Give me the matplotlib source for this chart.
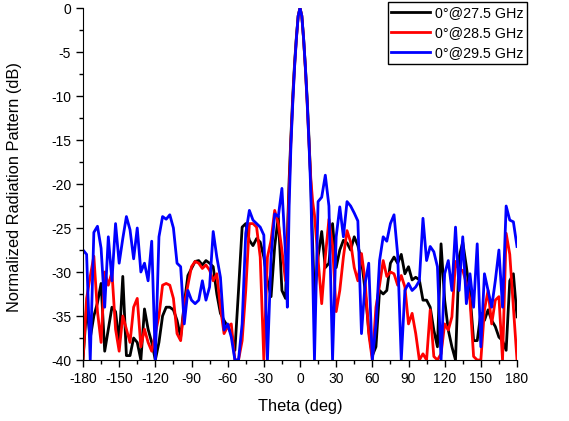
import numpy as np
import matplotlib
matplotlib.use("Agg")
import matplotlib.pyplot as plt
from matplotlib.ticker import MultipleLocator

plt.rcParams['font.family'] = ['Liberation Sans', 'DejaVu Sans']
plt.rcParams['axes.unicode_minus'] = False

# Theta grid: 3 deg outside the main beam, 1.5 deg across it
theta = np.concatenate([np.arange(-180, -12, 3),
                        np.arange(-12, 12.1, 1.5),
                        np.arange(15, 181, 3)])

# 0deg @ 27.5 GHz (black)
black_left = [-40, -34, -37.5, -35, -33.5, -31.3, -39, -36.5, -34, -34.5,
              -38, -30.5, -39.5, -39.5, -37.5, -38, -40, -34.2, -36.5, -38,
              -40, -38, -35, -34, -34, -34.3, -35.5, -37.4, -33.6, -30.4,
              -29.6, -28.8, -28.7, -29.2, -28.7, -29, -29.4, -32.5, -34.7, -35.5,
              -36.2, -37, -38.9, -32.1, -24.9, -24.5, -26.4, -27, -26.2, -26.6,
              -28.3, -31, -32.8, -27.1, -23.7, -32.1]
black_main = [-33, -26, -19.5, -14.5, -10, -6.3, -3.3, -0.9, 0,
              -0.9, -3.5, -6.8, -10.5, -15, -20, -27, -33]
black_right = [-28.3, -25.4, -29.5, -29, -24.5, -29.5, -27.5, -26.4, -26.7, -27.5,
               -26, -27, -28.7, -32.1, -36.6, -39.5, -38.5, -32.1, -32.5, -32.1,
               -29, -28.3, -29, -28, -30.2, -29.4, -30.9, -30.6, -30.9, -33.2,
               -33.2, -34, -36.6, -38.5, -26.8, -33.2, -36.6, -38.5, -40, -28.3,
               -26.6, -29.4, -32.5, -37.8, -37.8, -34.7, -35.5, -34.3, -35.5, -36.2,
               -37.4, -37.8, -38.9, -31, -30.2, -35.1]

# 0deg @ 28.5 GHz (red)
red_left = [-40, -33, -30.5, -28.2, -34.5, -38, -30, -31.5, -30, -36.5,
            -39, -35, -36.5, -38, -34, -33, -38.5, -36.5, -38, -39,
            -37, -35, -31.5, -31.3, -31.5, -33, -37, -37.8, -33.8, -31.5,
            -29.4, -28.8, -29, -29.6, -29.2, -29.8, -31, -30.2, -34, -37,
            -36.2, -35.9, -40, -40, -37.8, -32.1, -24.5, -24.5, -24.9, -28.3,
            -40, -28.3, -26.4, -23, -24.5, -27.5]
red_main = [-31, -27, -20.5, -15, -10.5, -6.6, -3.5, -0.9, 0,
            -0.9, -3.6, -7, -11, -15.5, -19.5, -22, -23.5]
red_right = [-28.5, -33.6, -28.3, -24, -27, -34.5, -32.1, -28.3, -25.3, -26.6,
             -29.5, -31, -27.9, -31, -37, -40, -34, -31.5, -28.7, -30.5,
             -30, -30.2, -31.5, -30.4, -31.7, -35.9, -34.7, -37, -40, -39.3,
             -40, -34.3, -39.6, -40, -39.3, -35.9, -36.6, -35.1, -28.8, -29.8,
             -29.8, -31.3, -33.2, -39.6, -40, -40, -34.3, -32.1, -35.9, -33.2,
             -32.8, -40, -25.6, -28, -34, -40]

# 0deg @ 29.5 GHz (blue)
blue_left = [-27.5, -28, -40, -25.5, -24.8, -27.3, -34, -26, -31, -24.5,
             -29, -26.2, -23.7, -25.2, -28.5, -25, -30, -29, -31, -26.5,
             -40, -26, -23.7, -24, -23.5, -25, -29, -29.4, -35.9, -32.1,
             -33.2, -33.6, -33.2, -31, -33.2, -31.7, -25.4, -28.3, -30.6, -36.6,
             -35.9, -37.4, -40, -40, -35.9, -25.6, -23, -24.1, -24.5, -24.9,
             -25.8, -40, -28.3, -23.4, -23.7, -20.5]
blue_main = [-28, -34, -22.5, -15.5, -10.8, -6.7, -3.5, -0.9, 0,
             -0.9, -3.5, -6.8, -10.8, -15.5, -21, -30, -40]
blue_right = [-22, -21.5, -19, -22.5, -40, -26, -22.6, -26, -22, -22.5,
              -23.3, -24.2, -37, -31.3, -29, -40, -36, -28.7, -26, -26.5,
              -24.5, -23.5, -28, -40, -32.1, -31.3, -32.1, -31.7, -31, -23.9,
              -28.7, -27.1, -27.7, -29.4, -40, -30.2, -28.7, -32.1, -24.9, -32.1,
              -26, -33.6, -30.2, -34, -26.8, -38.5, -30.2, -32.1, -34, -31,
              -27.5, -34, -22.5, -24.1, -24.3, -27.1]

series = [
    (black_left + black_main + black_right, 'black', '0°@27.5 GHz'),
    (red_left + red_main + red_right, 'red', '0°@28.5 GHz'),
    (blue_left + blue_main + blue_right, 'blue', '0°@29.5 GHz'),
]

fig = plt.figure(figsize=(5.69, 4.21), dpi=100)
ax = fig.add_axes([83 / 569, 1 - 360 / 421, 434 / 569, 352 / 421])

for values, color, label in series:
    ax.plot(theta, np.clip(values, -40, 0), color=color, lw=2.0, label=label)

ax.set_xlim(-180, 180)
ax.set_ylim(-40, 0)
ax.xaxis.set_major_locator(MultipleLocator(30))
ax.xaxis.set_minor_locator(MultipleLocator(15))
ax.yaxis.set_major_locator(MultipleLocator(5))
ax.yaxis.set_minor_locator(MultipleLocator(2.5))
ax.tick_params(which='both', direction='out', labelsize=10, width=1)
ax.tick_params(which='major', length=5)
ax.tick_params(which='minor', length=3)
ax.spines['top'].set_visible(False)
ax.spines['right'].set_visible(False)
ax.set_xlabel('Theta (deg)', fontsize=11.8)
ax.set_ylabel('Normalized Radiation Pattern (dB)', fontsize=11.8)
ax.xaxis.set_label_coords(0.5, -0.112)
ax.yaxis.set_label_coords(-0.14, 0.49)

leg = ax.legend(loc='upper right', bbox_to_anchor=(527 / 569, 1 - 2 / 421),
                bbox_transform=fig.transFigure, fontsize=10.3, frameon=True,
                fancybox=False, edgecolor='black', framealpha=1,
                handlelength=2.7, handletextpad=0.35, borderpad=0.25,
                labelspacing=0.45, borderaxespad=0)
leg.get_frame().set_linewidth(1.0)

fig.savefig('out.png', dpi=100)
